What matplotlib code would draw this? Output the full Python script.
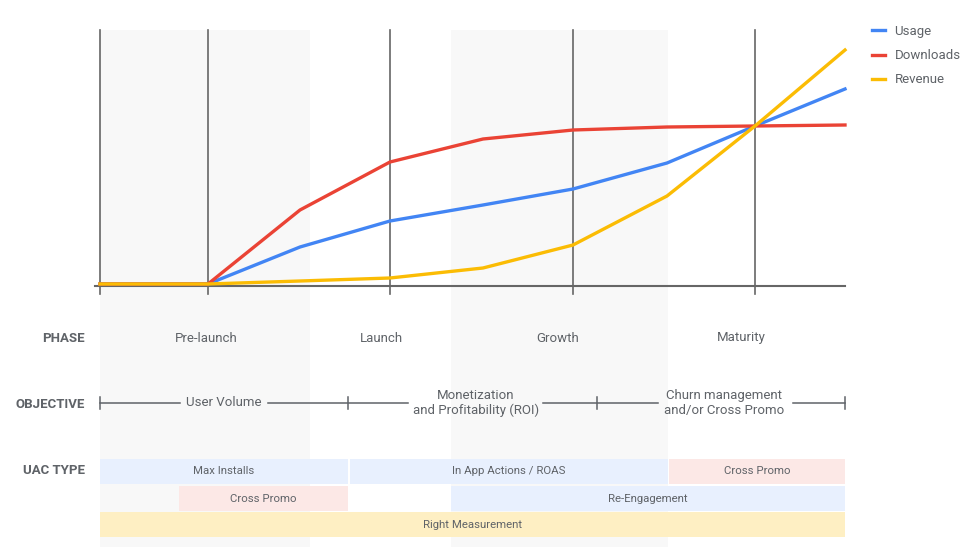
import matplotlib.pyplot as plt
from matplotlib.patches import Rectangle

plt.rcParams['font.family'] = ['Roboto', 'DejaVu Sans']

# Data (x in pixel-like stage units, y = height above baseline)
stage_x = [100, 208, 300, 390, 483, 573, 667, 755, 845]
usage = [2, 2, 39, 65, 81, 97, 123, 160, 197]
downloads = [2, 2, 76, 124, 147, 156, 159, 160, 161]
revenue = [2, 2, 5, 8, 18, 41, 90, 160, 236]

series = [("Usage", usage, "#4285f4"),
          ("Downloads", downloads, "#ea4335"),
          ("Revenue", revenue, "#fbbc04")]

grid_x = [100, 208, 390, 573, 755]
shade_spans = [(100, 310), (451, 668)]

phases = ["Pre-launch", "Launch", "Growth", "Maturity"]
phase_x = [206, 381, 558, 741]

objectives = ["User Volume", "Monetization\nand Profitability (ROI)",
              "Churn management\nand/or Cross Promo"]
objective_x = [224, 476, 724]
objective_ticks = [100, 348, 597, 845]
objective_gaps = [(180, 268), (408, 543), (658, 793)]

# UAC type bars: (label, start, end, row, kind)
uac_bars = [("Max Installs", 100, 348, 0, "blue"),
            ("In App Actions / ROAS", 350, 668, 0, "blue"),
            ("Cross Promo", 669, 845, 0, "pink"),
            ("Cross Promo", 179, 348, 1, "pink"),
            ("Re-Engagement", 451, 845, 1, "blue"),
            ("Right Measurement", 100, 845, 2, "yellow")]
bar_colors = {"blue": "#e8f0fe", "pink": "#fce8e6", "yellow": "#feefc3"}

W, H = 969, 547
fig = plt.figure(figsize=(W / 100, H / 100), dpi=100)

# background layer in pixel coordinates
bg = fig.add_axes([0, 0, 1, 1], zorder=0)
bg.set_xlim(0, W)
bg.set_ylim(H, 0)
bg.axis("off")

for a, b in shade_spans:
    bg.add_patch(Rectangle((a, 30), b - a, H - 30, color="#f8f8f8", lw=0))

txt = "#5f6368"

# section labels
for label, y in [("PHASE", 338), ("OBJECTIVE", 404), ("UAC TYPE", 471)]:
    bg.text(85, y, label, ha="right", va="center", fontsize=9.5,
            fontweight="bold", color=txt)

for p, x in zip(phases, phase_x):
    bg.text(x, 338, p, ha="center", va="center", fontsize=9.5, color=txt)

# objective line with gaps
oy = 403
segs = []
start = objective_ticks[0]
for a, b in objective_gaps:
    segs.append((start, a))
    start = b
segs.append((start, objective_ticks[-1]))
for a, b in segs:
    bg.plot([a, b], [oy, oy], color="#5f6368", lw=1.1)
for x in objective_ticks:
    bg.plot([x, x], [oy - 6, oy + 6], color="#5f6368", lw=1.1)
for o, x in zip(objectives, objective_x):
    bg.text(x, oy, o, ha="center", va="center", fontsize=9.5, color=txt,
            linespacing=1.2)

# uac bars
row_top = [459, 486, 512]
row_h = 25
for label, a, b, row, kind in uac_bars:
    y0 = row_top[row]
    bg.add_patch(Rectangle((a, y0), b - a, row_h, color=bar_colors[kind], lw=0))
    bg.text((a + b) / 2, y0 + row_h / 2, label, ha="center", va="center",
            fontsize=8.2, color=txt)

# main line chart
ax = fig.add_axes([100 / W, (H - 286) / H, 745 / W, 256 / H], zorder=1)
ax.patch.set_alpha(0)
ax.set_xlim(100, 845)
ax.set_ylim(0, 256)
ax.axis("off")

for x in grid_x:
    ax.plot([x, x], [-8, 256], color="#666666", lw=1.2, clip_on=False)
ax.plot([95, 845], [0, 0], color="#666666", lw=1.5, clip_on=False)

for name, vals, c in series:
    ax.plot(stage_x, vals, color=c, lw=2.4, label=name,
            solid_joinstyle="miter", clip_on=False)

leg = ax.legend(loc="upper left", bbox_to_anchor=(872 / W, 1 - 25 / H),
                bbox_transform=fig.transFigure, frameon=False,
                fontsize=9.5, handlelength=0.95, handletextpad=0.75,
                labelspacing=0.85, borderaxespad=0, borderpad=0)
for t in leg.get_texts():
    t.set_color(txt)

fig.savefig("out.png", dpi=100, facecolor="white")
